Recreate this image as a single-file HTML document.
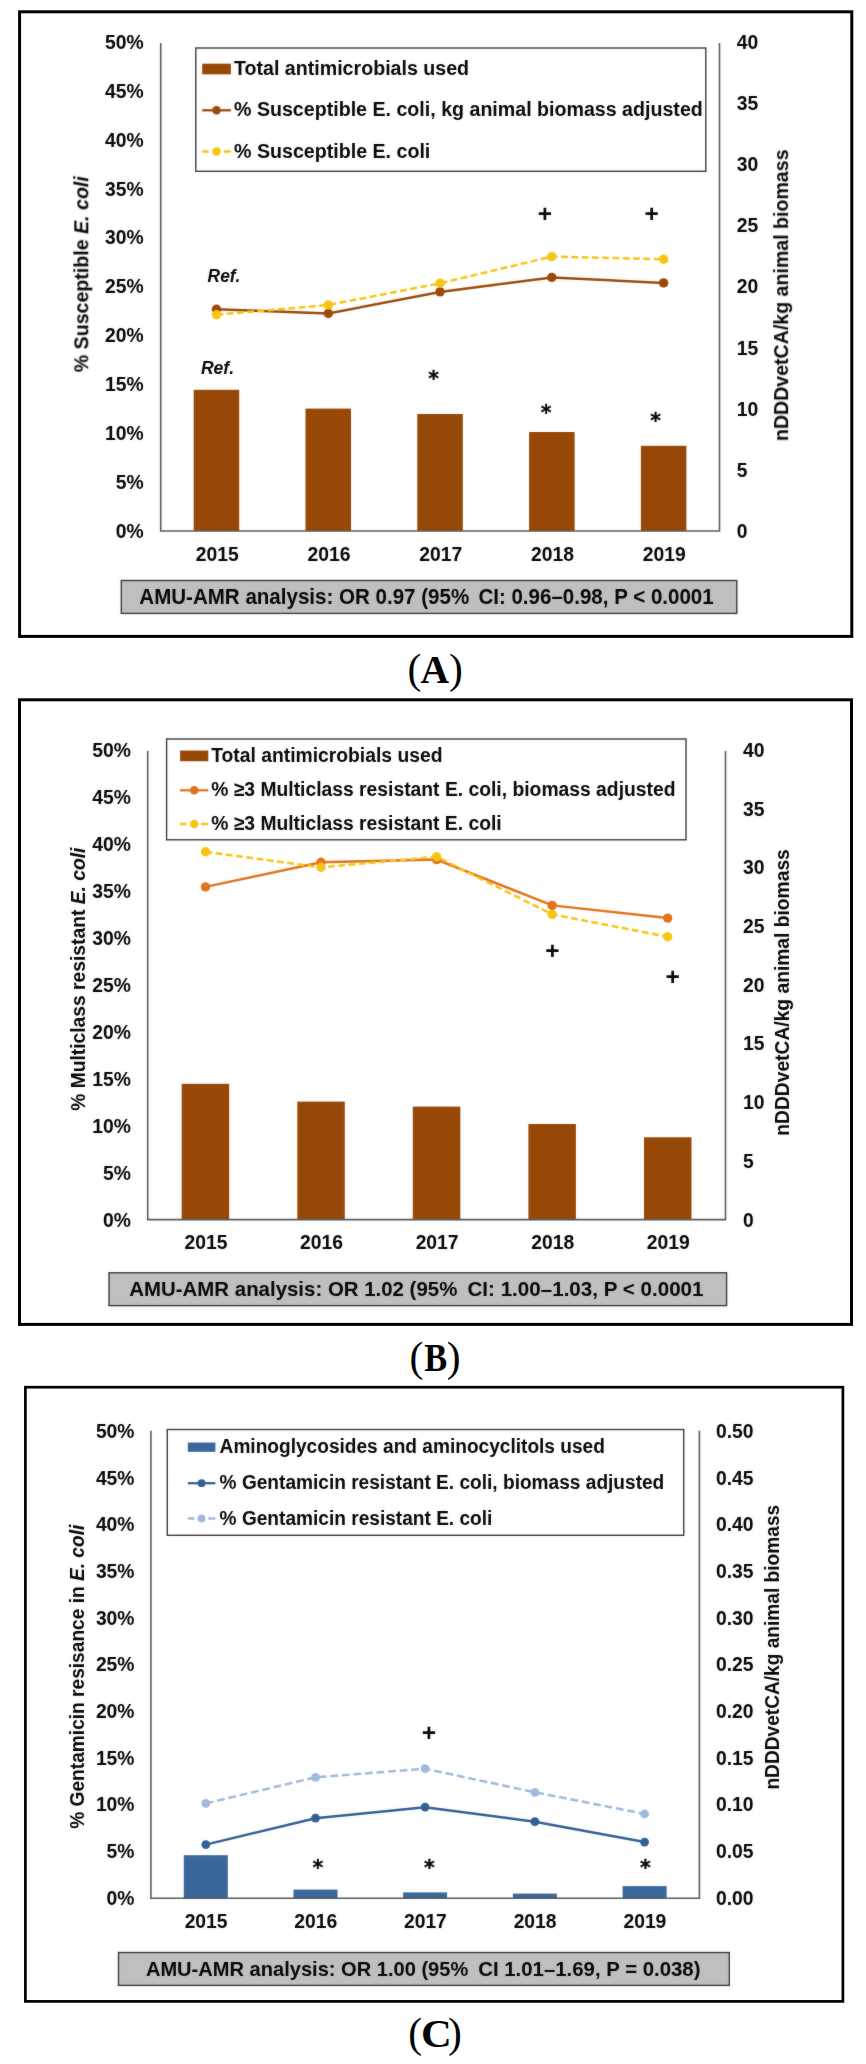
<!DOCTYPE html>
<html lang="en"><head><meta charset="utf-8"><title>AMU-AMR analysis figure</title>
<style>html,body{margin:0;padding:0;background:#fff}svg{display:block}</style></head>
<body>
<svg width="866" height="2064" viewBox="0 0 866 2064" font-family="'Liberation Sans', sans-serif">
<defs><filter id="soft" color-interpolation-filters="sRGB" x="0" y="0" width="866" height="2064" filterUnits="userSpaceOnUse"><feGaussianBlur stdDeviation="0.8" result="b"/><feComposite in="SourceGraphic" in2="b" operator="arithmetic" k1="0" k2="0.75" k3="0.25" k4="0"/></filter></defs>
<rect width="866" height="2064" fill="#fff"/>
<rect x="19.6" y="11.8" width="832.1999999999999" height="624.6" fill="#fff" stroke="#000" stroke-width="3"/>
<g filter="url(#soft)">
<rect x="193.7" y="389.8" width="45.5" height="141.2" fill="#974806"/>
<rect x="305.5" y="408.6" width="45.5" height="122.4" fill="#974806"/>
<rect x="417.3" y="414" width="45.5" height="117.0" fill="#974806"/>
<rect x="529.1" y="432" width="45.5" height="99.0" fill="#974806"/>
<rect x="640.9" y="445.8" width="45.5" height="85.2" fill="#974806"/>
<path d="M160.7 43.1V531.0H719.5V43.1" fill="none" stroke="#595959" stroke-width="1.6"/>
<text x="143.6" y="537.7" font-size="20.3" font-weight="bold" text-anchor="end" fill="#050505" textLength="27.9" lengthAdjust="spacingAndGlyphs">0%</text>
<text x="143.6" y="488.8" font-size="20.3" font-weight="bold" text-anchor="end" fill="#050505" textLength="27.9" lengthAdjust="spacingAndGlyphs">5%</text>
<text x="143.6" y="439.9" font-size="20.3" font-weight="bold" text-anchor="end" fill="#050505" textLength="38.6" lengthAdjust="spacingAndGlyphs">10%</text>
<text x="143.6" y="391.0" font-size="20.3" font-weight="bold" text-anchor="end" fill="#050505" textLength="38.6" lengthAdjust="spacingAndGlyphs">15%</text>
<text x="143.6" y="342.1" font-size="20.3" font-weight="bold" text-anchor="end" fill="#050505" textLength="38.6" lengthAdjust="spacingAndGlyphs">20%</text>
<text x="143.6" y="293.2" font-size="20.3" font-weight="bold" text-anchor="end" fill="#050505" textLength="38.6" lengthAdjust="spacingAndGlyphs">25%</text>
<text x="143.6" y="244.4" font-size="20.3" font-weight="bold" text-anchor="end" fill="#050505" textLength="38.6" lengthAdjust="spacingAndGlyphs">30%</text>
<text x="143.6" y="195.5" font-size="20.3" font-weight="bold" text-anchor="end" fill="#050505" textLength="38.6" lengthAdjust="spacingAndGlyphs">35%</text>
<text x="143.6" y="146.6" font-size="20.3" font-weight="bold" text-anchor="end" fill="#050505" textLength="38.6" lengthAdjust="spacingAndGlyphs">40%</text>
<text x="143.6" y="97.7" font-size="20.3" font-weight="bold" text-anchor="end" fill="#050505" textLength="38.6" lengthAdjust="spacingAndGlyphs">45%</text>
<text x="143.6" y="48.8" font-size="20.3" font-weight="bold" text-anchor="end" fill="#050505" textLength="38.6" lengthAdjust="spacingAndGlyphs">50%</text>
<text x="736.8" y="538.0" font-size="20.3" font-weight="bold" fill="#050505" textLength="10.7" lengthAdjust="spacingAndGlyphs">0</text>
<text x="736.8" y="476.8" font-size="20.3" font-weight="bold" fill="#050505" textLength="10.7" lengthAdjust="spacingAndGlyphs">5</text>
<text x="736.8" y="415.6" font-size="20.3" font-weight="bold" fill="#050505" textLength="21.5" lengthAdjust="spacingAndGlyphs">10</text>
<text x="736.8" y="354.5" font-size="20.3" font-weight="bold" fill="#050505" textLength="21.5" lengthAdjust="spacingAndGlyphs">15</text>
<text x="736.8" y="293.3" font-size="20.3" font-weight="bold" fill="#050505" textLength="21.5" lengthAdjust="spacingAndGlyphs">20</text>
<text x="736.8" y="232.1" font-size="20.3" font-weight="bold" fill="#050505" textLength="21.5" lengthAdjust="spacingAndGlyphs">25</text>
<text x="736.8" y="171.0" font-size="20.3" font-weight="bold" fill="#050505" textLength="21.5" lengthAdjust="spacingAndGlyphs">30</text>
<text x="736.8" y="109.8" font-size="20.3" font-weight="bold" fill="#050505" textLength="21.5" lengthAdjust="spacingAndGlyphs">35</text>
<text x="736.8" y="48.6" font-size="20.3" font-weight="bold" fill="#050505" textLength="21.5" lengthAdjust="spacingAndGlyphs">40</text>
<text x="217.2" y="561.4" font-size="20.3" font-weight="bold" text-anchor="middle" fill="#050505" textLength="42.9" lengthAdjust="spacingAndGlyphs">2015</text>
<text x="329.0" y="561.4" font-size="20.3" font-weight="bold" text-anchor="middle" fill="#050505" textLength="42.9" lengthAdjust="spacingAndGlyphs">2016</text>
<text x="440.7" y="561.4" font-size="20.3" font-weight="bold" text-anchor="middle" fill="#050505" textLength="42.9" lengthAdjust="spacingAndGlyphs">2017</text>
<text x="552.5" y="561.4" font-size="20.3" font-weight="bold" text-anchor="middle" fill="#050505" textLength="42.9" lengthAdjust="spacingAndGlyphs">2018</text>
<text x="664.3" y="561.4" font-size="20.3" font-weight="bold" text-anchor="middle" fill="#050505" textLength="42.9" lengthAdjust="spacingAndGlyphs">2019</text>
<text x="88.5" y="372.2" font-size="20" font-weight="bold" fill="#050505" textLength="196.0" lengthAdjust="spacingAndGlyphs" transform="rotate(-90 88.5 372.2)">% Susceptible <tspan font-style="italic">E. coli</tspan></text>
<text x="788.2" y="441.1" font-size="20" font-weight="bold" fill="#050505" textLength="291.6" lengthAdjust="spacingAndGlyphs" transform="rotate(-90 788.2 441.1)">nDDDvetCA/kg animal biomass</text>
<path d="M216.5 309.2L328.3 313.5L440.0 291.9L551.8 277.4L663.6 282.9" fill="none" stroke="#9c4a0b" stroke-width="2.5"/>
<circle cx="216.5" cy="309.2" r="4.7" fill="#9c4a0b"/>
<circle cx="328.3" cy="313.5" r="4.7" fill="#9c4a0b"/>
<circle cx="440.0" cy="291.9" r="4.7" fill="#9c4a0b"/>
<circle cx="551.8" cy="277.4" r="4.7" fill="#9c4a0b"/>
<circle cx="663.6" cy="282.9" r="4.7" fill="#9c4a0b"/>
<path d="M216.5 314.7L328.3 305L440.0 283.3L551.8 256.6L663.6 259.3" fill="none" stroke="#f8c414" stroke-width="2.5" stroke-dasharray="6.8 3.5"/>
<circle cx="216.5" cy="314.7" r="4.7" fill="#f8c414"/>
<circle cx="328.3" cy="305" r="4.7" fill="#f8c414"/>
<circle cx="440.0" cy="283.3" r="4.7" fill="#f8c414"/>
<circle cx="551.8" cy="256.6" r="4.7" fill="#f8c414"/>
<circle cx="663.6" cy="259.3" r="4.7" fill="#f8c414"/>
<rect x="195.8" y="48" width="509.99999999999994" height="123.30000000000001" fill="#fff" stroke="#3a3a3a" stroke-width="1.4"/>
<rect x="202.2" y="63.65" width="28.700000000000017" height="10.7" fill="#974806"/>
<path d="M202.2 110.3H230.9" stroke="#9c4a0b" stroke-width="2.3"/><circle cx="216.55" cy="110.3" r="4.3" fill="#9c4a0b"/>
<path d="M202.2 151.5h6.6M223.7 151.5h7.2" stroke="#f8c414" stroke-width="2.3"/><circle cx="216.55" cy="151.5" r="4.3" fill="#f8c414"/>
<text x="234" y="75.0" font-size="20.3" font-weight="bold" fill="#050505" textLength="235.1" lengthAdjust="spacingAndGlyphs">Total antimicrobials used</text>
<text x="234" y="116.3" font-size="20.3" font-weight="bold" fill="#050505" textLength="468.8" lengthAdjust="spacingAndGlyphs">% Susceptible E. coli, kg animal biomass adjusted</text>
<text x="234" y="157.5" font-size="20.3" font-weight="bold" fill="#050505" textLength="196.3" lengthAdjust="spacingAndGlyphs">% Susceptible E. coli</text>
<text x="537.8" y="222.4" font-size="24.5" font-weight="bold" fill="#050505">+</text>
<text x="644.6" y="222.4" font-size="24.5" font-weight="bold" fill="#050505">+</text>
<text x="428.2" y="385.9" font-size="20.5" font-weight="bold" fill="#050505" stroke="#111" stroke-width="0.35" font-family="'DejaVu Sans', 'Liberation Sans', sans-serif">*</text>
<text x="540.8" y="420.1" font-size="20.5" font-weight="bold" fill="#050505" stroke="#111" stroke-width="0.35" font-family="'DejaVu Sans', 'Liberation Sans', sans-serif">*</text>
<text x="650.3" y="428.0" font-size="20.5" font-weight="bold" fill="#050505" stroke="#111" stroke-width="0.35" font-family="'DejaVu Sans', 'Liberation Sans', sans-serif">*</text>
<text x="207.6" y="281.6" font-size="18" font-weight="bold" font-style="italic" fill="#050505" textLength="32.80000000000001" lengthAdjust="spacingAndGlyphs">Ref.</text>
<text x="200.9" y="373.6" font-size="18" font-weight="bold" font-style="italic" fill="#050505" textLength="33.19999999999999" lengthAdjust="spacingAndGlyphs">Ref.</text>
<rect x="121.3" y="580.5" width="615.5" height="32.89999999999998" fill="#bfbfbf" stroke="#3a3a3a" stroke-width="1.4"/>
<text y="603.5" font-size="21.2" font-weight="bold" fill="#050505"><tspan x="139.3" textLength="329.9" lengthAdjust="spacingAndGlyphs">AMU-AMR analysis: OR 0.97 (95%</tspan> <tspan x="478.4" textLength="235.3" lengthAdjust="spacingAndGlyphs">CI: 0.96–0.98, P &lt; 0.0001</tspan></text>
</g>
<text y="683" font-size="41.5" fill="#050505" font-family="'Liberation Serif', 'DejaVu Serif', serif"><tspan x="407.4">(</tspan><tspan x="420.6" font-size="39.5" font-weight="bold">A</tspan><tspan x="449.1">)</tspan></text>
<rect x="19.5" y="699.8" width="832.0" height="624.6000000000001" fill="#fff" stroke="#000" stroke-width="3"/>
<g filter="url(#soft)">
<rect x="181.7" y="1083.8" width="47.5" height="135.8" fill="#974806"/>
<rect x="297.3" y="1101.6" width="47.5" height="118.0" fill="#974806"/>
<rect x="412.8" y="1106.6" width="47.5" height="113.0" fill="#974806"/>
<rect x="528.4" y="1124" width="47.5" height="95.6" fill="#974806"/>
<rect x="644.0" y="1137.3" width="47.5" height="82.3" fill="#974806"/>
<path d="M147.7 750.9V1219.6H725.5V750.9" fill="none" stroke="#595959" stroke-width="1.6"/>
<text x="130.9" y="1226.5" font-size="20.3" font-weight="bold" text-anchor="end" fill="#050505" textLength="27.9" lengthAdjust="spacingAndGlyphs">0%</text>
<text x="130.9" y="1179.5" font-size="20.3" font-weight="bold" text-anchor="end" fill="#050505" textLength="27.9" lengthAdjust="spacingAndGlyphs">5%</text>
<text x="130.9" y="1132.6" font-size="20.3" font-weight="bold" text-anchor="end" fill="#050505" textLength="38.6" lengthAdjust="spacingAndGlyphs">10%</text>
<text x="130.9" y="1085.7" font-size="20.3" font-weight="bold" text-anchor="end" fill="#050505" textLength="38.6" lengthAdjust="spacingAndGlyphs">15%</text>
<text x="130.9" y="1038.7" font-size="20.3" font-weight="bold" text-anchor="end" fill="#050505" textLength="38.6" lengthAdjust="spacingAndGlyphs">20%</text>
<text x="130.9" y="991.8" font-size="20.3" font-weight="bold" text-anchor="end" fill="#050505" textLength="38.6" lengthAdjust="spacingAndGlyphs">25%</text>
<text x="130.9" y="944.8" font-size="20.3" font-weight="bold" text-anchor="end" fill="#050505" textLength="38.6" lengthAdjust="spacingAndGlyphs">30%</text>
<text x="130.9" y="897.9" font-size="20.3" font-weight="bold" text-anchor="end" fill="#050505" textLength="38.6" lengthAdjust="spacingAndGlyphs">35%</text>
<text x="130.9" y="850.9" font-size="20.3" font-weight="bold" text-anchor="end" fill="#050505" textLength="38.6" lengthAdjust="spacingAndGlyphs">40%</text>
<text x="130.9" y="803.9" font-size="20.3" font-weight="bold" text-anchor="end" fill="#050505" textLength="38.6" lengthAdjust="spacingAndGlyphs">45%</text>
<text x="130.9" y="757.0" font-size="20.3" font-weight="bold" text-anchor="end" fill="#050505" textLength="38.6" lengthAdjust="spacingAndGlyphs">50%</text>
<text x="743" y="1226.5" font-size="20.3" font-weight="bold" fill="#050505" textLength="10.7" lengthAdjust="spacingAndGlyphs">0</text>
<text x="743" y="1167.8" font-size="20.3" font-weight="bold" fill="#050505" textLength="10.7" lengthAdjust="spacingAndGlyphs">5</text>
<text x="743" y="1109.1" font-size="20.3" font-weight="bold" fill="#050505" textLength="21.5" lengthAdjust="spacingAndGlyphs">10</text>
<text x="743" y="1050.4" font-size="20.3" font-weight="bold" fill="#050505" textLength="21.5" lengthAdjust="spacingAndGlyphs">15</text>
<text x="743" y="991.8" font-size="20.3" font-weight="bold" fill="#050505" textLength="21.5" lengthAdjust="spacingAndGlyphs">20</text>
<text x="743" y="933.1" font-size="20.3" font-weight="bold" fill="#050505" textLength="21.5" lengthAdjust="spacingAndGlyphs">25</text>
<text x="743" y="874.4" font-size="20.3" font-weight="bold" fill="#050505" textLength="21.5" lengthAdjust="spacingAndGlyphs">30</text>
<text x="743" y="815.7" font-size="20.3" font-weight="bold" fill="#050505" textLength="21.5" lengthAdjust="spacingAndGlyphs">35</text>
<text x="743" y="757.0" font-size="20.3" font-weight="bold" fill="#050505" textLength="21.5" lengthAdjust="spacingAndGlyphs">40</text>
<text x="206.0" y="1249" font-size="20.3" font-weight="bold" text-anchor="middle" fill="#050505" textLength="42.9" lengthAdjust="spacingAndGlyphs">2015</text>
<text x="321.5" y="1249" font-size="20.3" font-weight="bold" text-anchor="middle" fill="#050505" textLength="42.9" lengthAdjust="spacingAndGlyphs">2016</text>
<text x="437.1" y="1249" font-size="20.3" font-weight="bold" text-anchor="middle" fill="#050505" textLength="42.9" lengthAdjust="spacingAndGlyphs">2017</text>
<text x="552.7" y="1249" font-size="20.3" font-weight="bold" text-anchor="middle" fill="#050505" textLength="42.9" lengthAdjust="spacingAndGlyphs">2018</text>
<text x="668.2" y="1249" font-size="20.3" font-weight="bold" text-anchor="middle" fill="#050505" textLength="42.9" lengthAdjust="spacingAndGlyphs">2019</text>
<text x="85" y="1110.8" font-size="20" font-weight="bold" fill="#050505" textLength="263.2" lengthAdjust="spacingAndGlyphs" transform="rotate(-90 85 1110.8)">% Multiclass resistant <tspan font-style="italic">E. coli</tspan></text>
<text x="789.4" y="1135.7" font-size="20" font-weight="bold" fill="#050505" textLength="286.5" lengthAdjust="spacingAndGlyphs" transform="rotate(-90 789.4 1135.7)">nDDDvetCA/kg animal biomass</text>
<path d="M205.5 886.9L321.0 862.2L436.6 859.6L552.2 905.4L667.7 918.1" fill="none" stroke="#e1731a" stroke-width="2.5"/>
<circle cx="205.5" cy="886.9" r="4.7" fill="#e1731a"/>
<circle cx="321.0" cy="862.2" r="4.7" fill="#e1731a"/>
<circle cx="436.6" cy="859.6" r="4.7" fill="#e1731a"/>
<circle cx="552.2" cy="905.4" r="4.7" fill="#e1731a"/>
<circle cx="667.7" cy="918.1" r="4.7" fill="#e1731a"/>
<path d="M205.5 851.8L321.0 867.3L436.6 856.7L552.2 914.4L667.7 936.7" fill="none" stroke="#f8c414" stroke-width="2.5" stroke-dasharray="6.8 3.5"/>
<circle cx="205.5" cy="851.8" r="4.7" fill="#f8c414"/>
<circle cx="321.0" cy="867.3" r="4.7" fill="#f8c414"/>
<circle cx="436.6" cy="856.7" r="4.7" fill="#f8c414"/>
<circle cx="552.2" cy="914.4" r="4.7" fill="#f8c414"/>
<circle cx="667.7" cy="936.7" r="4.7" fill="#f8c414"/>
<rect x="166.6" y="739" width="519.4" height="100.79999999999995" fill="#fff" stroke="#3a3a3a" stroke-width="1.4"/>
<rect x="180.1" y="750.55" width="28.200000000000017" height="10.7" fill="#974806"/>
<path d="M180.1 790.3H208.3" stroke="#e1731a" stroke-width="2.3"/><circle cx="194.2" cy="790.3" r="4.3" fill="#e1731a"/>
<path d="M180.1 824h6.6M201.1 824h7.2" stroke="#f8c414" stroke-width="2.3"/><circle cx="194.2" cy="824" r="4.3" fill="#f8c414"/>
<text x="211.2" y="761.9" font-size="20.3" font-weight="bold" fill="#050505" textLength="231.3" lengthAdjust="spacingAndGlyphs">Total antimicrobials used</text>
<text x="211.2" y="796.3" font-size="20.3" font-weight="bold" fill="#050505" textLength="464.3" lengthAdjust="spacingAndGlyphs">% ≥3 Multiclass resistant E. coli, biomass adjusted</text>
<text x="211.2" y="830.0" font-size="20.3" font-weight="bold" fill="#050505" textLength="290.5" lengthAdjust="spacingAndGlyphs">% ≥3 Multiclass resistant E. coli</text>
<text x="545.2" y="959.1" font-size="24.5" font-weight="bold" fill="#050505">+</text>
<text x="665.6" y="985.2" font-size="24.5" font-weight="bold" fill="#050505">+</text>
<rect x="109.0" y="1272.8" width="617.6" height="32.799999999999955" fill="#bfbfbf" stroke="#3a3a3a" stroke-width="1.4"/>
<text y="1296.2" font-size="20.1" font-weight="bold" fill="#050505"><tspan x="129.3" textLength="328.0" lengthAdjust="spacingAndGlyphs">AMU-AMR analysis: OR 1.02 (95%</tspan> <tspan x="467.5" textLength="236.0" lengthAdjust="spacingAndGlyphs">CI: 1.00–1.03, P &lt; 0.0001</tspan></text>
</g>
<text y="1370.7" font-size="41.5" fill="#050505" font-family="'Liberation Serif', 'DejaVu Serif', serif"><tspan x="409.5">(</tspan><tspan x="424.3" font-size="39.5" font-weight="bold" textLength="22.9" lengthAdjust="spacingAndGlyphs">B</tspan><tspan x="446.8">)</tspan></text>
<rect x="25.4" y="1387.2" width="817.5" height="614.2" fill="#fff" stroke="#000" stroke-width="2.7"/>
<g filter="url(#soft)">
<rect x="183.8" y="1855.2" width="44" height="43.0" fill="#3a679a"/>
<rect x="293.5" y="1889.6" width="44" height="8.6" fill="#3a679a"/>
<rect x="403.1" y="1892.4" width="44" height="5.8" fill="#3a679a"/>
<rect x="512.9" y="1893.6" width="44" height="4.6" fill="#3a679a"/>
<rect x="622.6" y="1886.1" width="44" height="12.1" fill="#3a679a"/>
<path d="M150.9 1430.7V1898.2H699.4V1430.7" fill="none" stroke="#595959" stroke-width="1.6"/>
<text x="134.5" y="1904.7" font-size="20.3" font-weight="bold" text-anchor="end" fill="#050505" textLength="27.9" lengthAdjust="spacingAndGlyphs">0%</text>
<text x="134.5" y="1858.0" font-size="20.3" font-weight="bold" text-anchor="end" fill="#050505" textLength="27.9" lengthAdjust="spacingAndGlyphs">5%</text>
<text x="134.5" y="1811.3" font-size="20.3" font-weight="bold" text-anchor="end" fill="#050505" textLength="38.6" lengthAdjust="spacingAndGlyphs">10%</text>
<text x="134.5" y="1764.6" font-size="20.3" font-weight="bold" text-anchor="end" fill="#050505" textLength="38.6" lengthAdjust="spacingAndGlyphs">15%</text>
<text x="134.5" y="1717.9" font-size="20.3" font-weight="bold" text-anchor="end" fill="#050505" textLength="38.6" lengthAdjust="spacingAndGlyphs">20%</text>
<text x="134.5" y="1671.2" font-size="20.3" font-weight="bold" text-anchor="end" fill="#050505" textLength="38.6" lengthAdjust="spacingAndGlyphs">25%</text>
<text x="134.5" y="1624.6" font-size="20.3" font-weight="bold" text-anchor="end" fill="#050505" textLength="38.6" lengthAdjust="spacingAndGlyphs">30%</text>
<text x="134.5" y="1577.9" font-size="20.3" font-weight="bold" text-anchor="end" fill="#050505" textLength="38.6" lengthAdjust="spacingAndGlyphs">35%</text>
<text x="134.5" y="1531.2" font-size="20.3" font-weight="bold" text-anchor="end" fill="#050505" textLength="38.6" lengthAdjust="spacingAndGlyphs">40%</text>
<text x="134.5" y="1484.5" font-size="20.3" font-weight="bold" text-anchor="end" fill="#050505" textLength="38.6" lengthAdjust="spacingAndGlyphs">45%</text>
<text x="134.5" y="1437.8" font-size="20.3" font-weight="bold" text-anchor="end" fill="#050505" textLength="38.6" lengthAdjust="spacingAndGlyphs">50%</text>
<text x="716" y="1904.7" font-size="20.3" font-weight="bold" fill="#050505" textLength="37.6" lengthAdjust="spacingAndGlyphs">0.00</text>
<text x="716" y="1858.0" font-size="20.3" font-weight="bold" fill="#050505" textLength="37.6" lengthAdjust="spacingAndGlyphs">0.05</text>
<text x="716" y="1811.3" font-size="20.3" font-weight="bold" fill="#050505" textLength="37.6" lengthAdjust="spacingAndGlyphs">0.10</text>
<text x="716" y="1764.6" font-size="20.3" font-weight="bold" fill="#050505" textLength="37.6" lengthAdjust="spacingAndGlyphs">0.15</text>
<text x="716" y="1717.9" font-size="20.3" font-weight="bold" fill="#050505" textLength="37.6" lengthAdjust="spacingAndGlyphs">0.20</text>
<text x="716" y="1671.2" font-size="20.3" font-weight="bold" fill="#050505" textLength="37.6" lengthAdjust="spacingAndGlyphs">0.25</text>
<text x="716" y="1624.6" font-size="20.3" font-weight="bold" fill="#050505" textLength="37.6" lengthAdjust="spacingAndGlyphs">0.30</text>
<text x="716" y="1577.9" font-size="20.3" font-weight="bold" fill="#050505" textLength="37.6" lengthAdjust="spacingAndGlyphs">0.35</text>
<text x="716" y="1531.2" font-size="20.3" font-weight="bold" fill="#050505" textLength="37.6" lengthAdjust="spacingAndGlyphs">0.40</text>
<text x="716" y="1484.5" font-size="20.3" font-weight="bold" fill="#050505" textLength="37.6" lengthAdjust="spacingAndGlyphs">0.45</text>
<text x="716" y="1437.8" font-size="20.3" font-weight="bold" fill="#050505" textLength="37.6" lengthAdjust="spacingAndGlyphs">0.50</text>
<text x="206.1" y="1927.7" font-size="20.3" font-weight="bold" text-anchor="middle" fill="#050505" textLength="42.9" lengthAdjust="spacingAndGlyphs">2015</text>
<text x="315.8" y="1927.7" font-size="20.3" font-weight="bold" text-anchor="middle" fill="#050505" textLength="42.9" lengthAdjust="spacingAndGlyphs">2016</text>
<text x="425.4" y="1927.7" font-size="20.3" font-weight="bold" text-anchor="middle" fill="#050505" textLength="42.9" lengthAdjust="spacingAndGlyphs">2017</text>
<text x="535.1" y="1927.7" font-size="20.3" font-weight="bold" text-anchor="middle" fill="#050505" textLength="42.9" lengthAdjust="spacingAndGlyphs">2018</text>
<text x="644.9" y="1927.7" font-size="20.3" font-weight="bold" text-anchor="middle" fill="#050505" textLength="42.9" lengthAdjust="spacingAndGlyphs">2019</text>
<text x="84.4" y="1828.7" font-size="20" font-weight="bold" fill="#050505" textLength="304.0" lengthAdjust="spacingAndGlyphs" transform="rotate(-90 84.4 1828.7)">% Gentamicin resisance in <tspan font-style="italic">E. coli</tspan></text>
<text x="779.3" y="1789.6" font-size="20" font-weight="bold" fill="#050505" textLength="284.8" lengthAdjust="spacingAndGlyphs" transform="rotate(-90 779.3 1789.6)">nDDDvetCA/kg animal biomass</text>
<path d="M205.8 1844.6L315.5 1818.2L425.1 1807.2L534.9 1821.7L644.6 1842.1" fill="none" stroke="#315f94" stroke-width="2.5"/>
<circle cx="205.8" cy="1844.6" r="4.4" fill="#315f94"/>
<circle cx="315.5" cy="1818.2" r="4.4" fill="#315f94"/>
<circle cx="425.1" cy="1807.2" r="4.4" fill="#315f94"/>
<circle cx="534.9" cy="1821.7" r="4.4" fill="#315f94"/>
<circle cx="644.6" cy="1842.1" r="4.4" fill="#315f94"/>
<path d="M205.8 1803.4L315.5 1777.3L425.1 1768.7L534.9 1792.3L644.6 1813.9" fill="none" stroke="#a0badc" stroke-width="2.5" stroke-dasharray="7.8 3.8"/>
<circle cx="205.8" cy="1803.4" r="4.4" fill="#a0badc"/>
<circle cx="315.5" cy="1777.3" r="4.4" fill="#a0badc"/>
<circle cx="425.1" cy="1768.7" r="4.4" fill="#a0badc"/>
<circle cx="534.9" cy="1792.3" r="4.4" fill="#a0badc"/>
<circle cx="644.6" cy="1813.9" r="4.4" fill="#a0badc"/>
<rect x="167.3" y="1429.5" width="516.4000000000001" height="105.79999999999995" fill="#fff" stroke="#3a3a3a" stroke-width="1.4"/>
<rect x="187.8" y="1442.55" width="27.599999999999994" height="9.3" fill="#3a679a"/>
<path d="M187.8 1483.2H215.4" stroke="#315f94" stroke-width="2.3"/><circle cx="201.60000000000002" cy="1483.2" r="3.9" fill="#315f94"/>
<path d="M187.8 1518.5h6.6M208.2 1518.5h7.2" stroke="#a0badc" stroke-width="2.3"/><circle cx="201.60000000000002" cy="1518.5" r="3.9" fill="#a0badc"/>
<text x="219.6" y="1453.2" font-size="20.3" font-weight="bold" fill="#050505" textLength="385.3" lengthAdjust="spacingAndGlyphs">Aminoglycosides and aminocyclitols used</text>
<text x="219.6" y="1489.2" font-size="20.3" font-weight="bold" fill="#050505" textLength="444.7" lengthAdjust="spacingAndGlyphs">% Gentamicin resistant E. coli, biomass adjusted</text>
<text x="219.6" y="1524.5" font-size="20.3" font-weight="bold" fill="#050505" textLength="272.8" lengthAdjust="spacingAndGlyphs">% Gentamicin resistant E. coli</text>
<text x="421.7" y="1740.8" font-size="24.5" font-weight="bold" fill="#050505">+</text>
<text x="312.4" y="1874.6" font-size="20.5" font-weight="bold" fill="#050505" stroke="#111" stroke-width="0.35" font-family="'DejaVu Sans', 'Liberation Sans', sans-serif">*</text>
<text x="423.9" y="1874.6" font-size="20.5" font-weight="bold" fill="#050505" stroke="#111" stroke-width="0.35" font-family="'DejaVu Sans', 'Liberation Sans', sans-serif">*</text>
<text x="640.1" y="1874.6" font-size="20.5" font-weight="bold" fill="#050505" stroke="#111" stroke-width="0.35" font-family="'DejaVu Sans', 'Liberation Sans', sans-serif">*</text>
<rect x="118.5" y="1952.5" width="610.8" height="32.90000000000009" fill="#bfbfbf" stroke="#3a3a3a" stroke-width="1.4"/>
<text y="1975.8" font-size="20.5" font-weight="bold" fill="#050505"><tspan x="145.9" textLength="322.4" lengthAdjust="spacingAndGlyphs">AMU-AMR analysis: OR 1.00 (95%</tspan> <tspan x="478.2" textLength="222.3" lengthAdjust="spacingAndGlyphs">CI 1.01–1.69, P = 0.038)</tspan></text>
</g>
<text y="2047.3" font-size="41.5" fill="#050505" font-family="'Liberation Serif', 'DejaVu Serif', serif"><tspan x="408.2">(</tspan><tspan x="420.9" font-size="39.5" font-weight="bold" textLength="30.8" lengthAdjust="spacingAndGlyphs">C</tspan><tspan x="448.1">)</tspan></text>
</svg>
</body></html>
